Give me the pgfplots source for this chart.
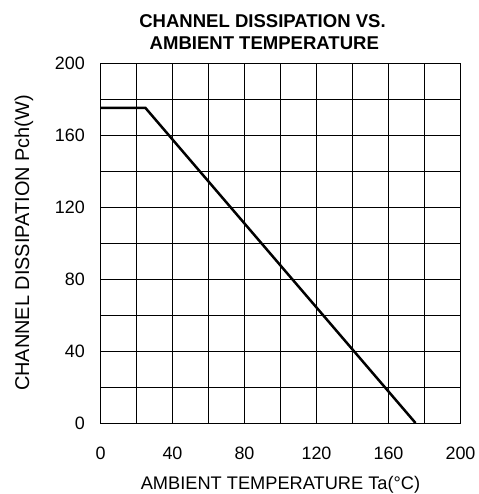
\documentclass[border=0pt]{standalone}
\usepackage{fontspec}
\setmainfont{Liberation Sans}
\usepackage{pgfplots}
\pgfplotsset{compat=1.18}
\begin{document}
\begin{tikzpicture}[x=1bp,y=1bp]
\path[use as bounding box] (0,0) rectangle (479bp,494bp);
\begin{axis}[
  at={(100.5bp,71bp)}, anchor=south west,
  width=360bp, height=360bp, scale only axis,
  xmin=0, xmax=200, ymin=0, ymax=200,
  xtick={0,40,...,200}, ytick={0,40,...,200},
  minor xtick={20,60,...,180}, minor ytick={20,60,...,180},
  grid=both, major grid style={black, line width=0.7bp}, minor grid style={black, line width=0.7bp},
  axis line style={black, line width=0.9bp},
  tick style={draw=none},
  tick label style={font=\fontsize{18}{20}\selectfont},
  /pgf/number format/assume math mode=true,
  xticklabel style={anchor=north, inner sep=0pt, yshift=-23.5bp},
  yticklabel style={anchor=east, inner sep=0pt, xshift=-15.5bp},
  xlabel={AMBIENT TEMPERATURE Ta(°C)},
  ylabel={CHANNEL DISSIPATION Pch(W)},
  xlabel style={font=\fontsize{18.3}{20}\selectfont, at={(axis description cs:0.5,0)}, anchor=base, inner sep=0pt, yshift=-66bp},
  ylabel style={font=\fontsize{20}{22}\selectfont, at={(axis description cs:-0.1986,0.5)}, anchor=base, inner sep=0pt},
  title={\textbf{AMBIENT TEMPERATURE}},
  title style={font=\fontsize{18.6}{20}\selectfont, at={(axis description cs:0.455,1)}, anchor=base, inner sep=0pt, yshift=8bp},
  clip=false,
]
\addplot[black, line width=2.5bp] coordinates {(0,175) (25,175) (175,0)};
\node[anchor=base, inner sep=0pt, yshift=35bp, font=\fontsize{18.6}{20}\selectfont\bfseries] at (axis description cs:0.45,1) {CHANNEL DISSIPATION VS.};
\end{axis}
\end{tikzpicture}
\end{document}
